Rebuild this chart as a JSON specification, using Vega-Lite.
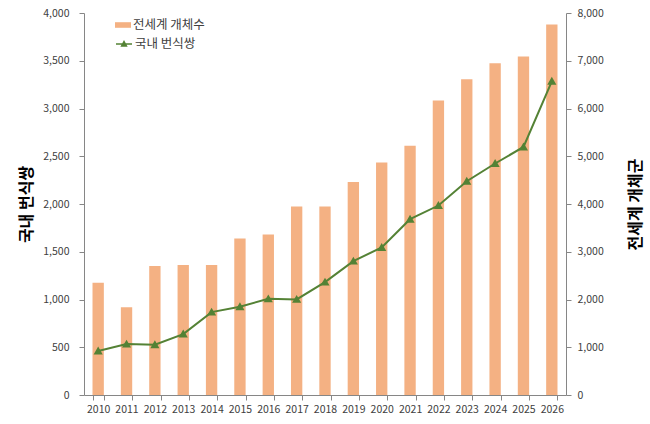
{
  "$schema": "https://vega.github.io/schema/vega-lite/v6.json",
  "autosize": {"type": "none"},
  "padding": {"left": 84, "right": 84, "top": 13, "bottom": 29},
  "width": 482,
  "height": 382,
  "background": "white",
  "data": {
    "values": [
      {"year": "2010", "pop": 2350, "pairs": 460},
      {"year": "2011", "pop": 1840, "pairs": 533},
      {"year": "2012", "pop": 2700, "pairs": 526},
      {"year": "2013", "pop": 2725, "pairs": 638},
      {"year": "2014", "pop": 2725, "pairs": 868},
      {"year": "2015", "pop": 3280, "pairs": 924},
      {"year": "2016", "pop": 3360, "pairs": 1007},
      {"year": "2017", "pop": 3950, "pairs": 1001},
      {"year": "2018", "pop": 3950, "pairs": 1182},
      {"year": "2019", "pop": 4460, "pairs": 1402},
      {"year": "2020", "pop": 4870, "pairs": 1545},
      {"year": "2021", "pop": 5220, "pairs": 1841},
      {"year": "2022", "pop": 6170, "pairs": 1984},
      {"year": "2023", "pop": 6610, "pairs": 2238},
      {"year": "2024", "pop": 6950, "pairs": 2424},
      {"year": "2025", "pop": 7090, "pairs": 2597},
      {"year": "2026", "pop": 7760, "pairs": 3285}
    ]
  },
  "encoding": {
    "x": {
      "field": "year",
      "type": "ordinal",
      "title": null,
      "scale": {"paddingInner": 0.6, "paddingOuter": 0.3},
      "axis": {"labelAngle": 0, "tickBand": "extent", "labelPadding": 4}
    }
  },
  "layer": [
    {
      "mark": {"type": "bar"},
      "encoding": {
        "y": {
          "field": "pop",
          "type": "quantitative",
          "title": "전세계 개체군",
          "scale": {"domain": [0, 8000]},
          "axis": {
            "orient": "right",
            "values": [0, 1000, 2000, 3000, 4000, 5000, 6000, 7000, 8000],
            "format": ",d",
            "labelPadding": 6,
            "titleAngle": 270,
            "titlePadding": 40
          }
        },
        "fill": {
          "datum": "전세계 개체수",
          "scale": {"range": ["#F4B183"]},
          "legend": {
            "title": null,
            "orient": "none",
            "legendX": 31,
            "legendY": 4,
            "symbolType": "M-1,-0.35H1V0.35H-1Z",
            "symbolSize": 256,
            "symbolStrokeWidth": 0
          }
        }
      }
    },
    {
      "mark": {
        "type": "line",
        "strokeWidth": 2,
        "point": {"shape": "triangle-up", "filled": true, "size": 32, "fill": "#548235", "stroke": "#548235"}
      },
      "encoding": {
        "y": {
          "field": "pairs",
          "type": "quantitative",
          "title": "국내 번식쌍",
          "scale": {"domain": [0, 4000]},
          "axis": {
            "orient": "left",
            "values": [0, 500, 1000, 1500, 2000, 2500, 3000, 3500, 4000],
            "format": ",d",
            "labelPadding": 10,
            "titlePadding": 8
          }
        },
        "stroke": {
          "datum": "국내 번식쌍",
          "scale": {"range": ["#548235"]},
          "legend": {
            "title": null,
            "orient": "none",
            "legendX": 31,
            "legendY": 22,
            "symbolType": "M-1,0H1M-0.3,0.25L0,-0.3L0.3,0.25Z",
            "symbolSize": 256,
            "symbolFillColor": "#548235",
            "symbolStrokeWidth": 1.5
          }
        }
      }
    }
  ],
  "resolve": {"scale": {"y": "independent"}},
  "config": {
    "font": "Noto Sans CJK KR",
    "view": {"stroke": null},
    "axis": {
      "grid": false,
      "domainColor": "#868686",
      "tickColor": "#868686",
      "tickSize": 5,
      "labelFont": "Noto Sans CJK KR",
      "labelFontSize": 10.5,
      "labelColor": "#404040",
      "titleFont": "Noto Sans CJK KR",
      "titleFontSize": 16,
      "titleFontWeight": "bold",
      "titleColor": "#000000"
    },
    "legend": {
      "padding": 0,
      "labelFont": "Noto Sans CJK KR",
      "labelFontSize": 12.5,
      "labelColor": "#404040",
      "labelOffset": 2
    }
  }
}
